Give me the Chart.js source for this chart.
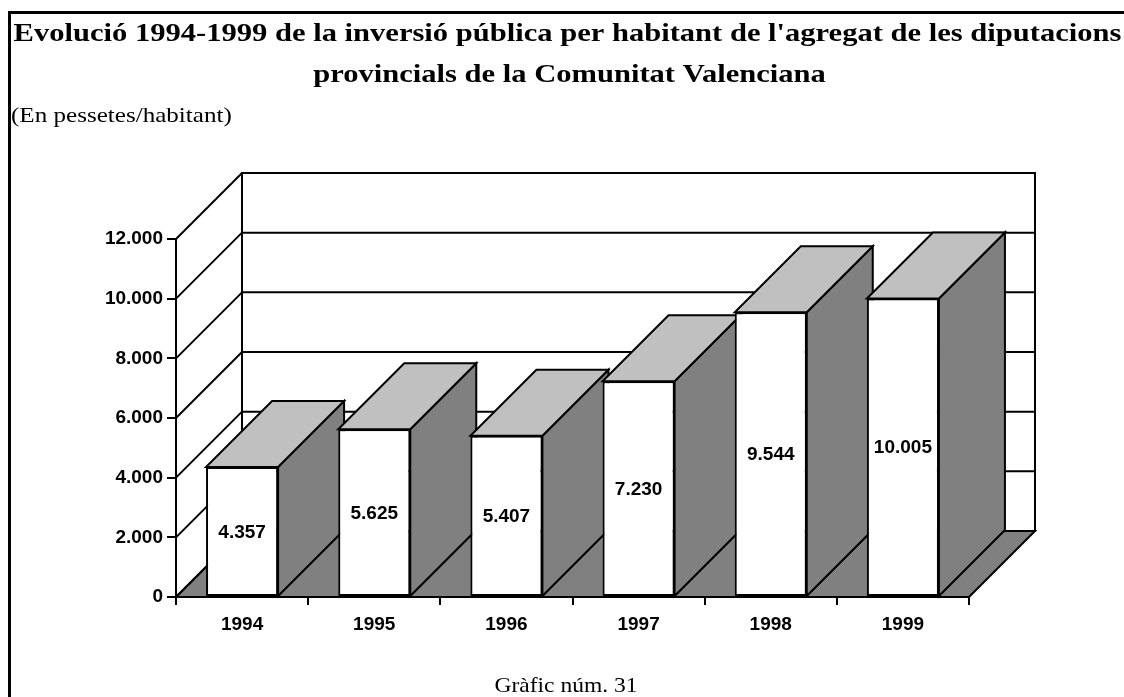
<!DOCTYPE html>
<html><head><meta charset="utf-8">
<script src="https://cdn.jsdelivr.net/npm/chart.js@4.4.1/dist/chart.umd.min.js"></script>
<style>html,body{margin:0;padding:0;background:#fff;} #wrap{width:1124px;height:697px;position:relative;}</style>
</head><body><div id="wrap"><canvas id="c" width="1124" height="697"></canvas></div>
<script>
const categories = ['1994', '1995', '1996', '1997', '1998', '1999'];
const values = [4357, 5625, 5407, 7230, 9544, 10005];
const yTicks = [0, 2000, 4000, 6000, 8000, 10000, 12000];
const titleLines = ["Evolució 1994-1999 de la inversió pública per habitant de l'agregat de les diputacions", "provincials de la Comunitat Valenciana"];
const subtitleText = "(En pessetes/habitant)";
const footerText = "Gràfic núm. 31";

const DX = 66, DY = 66;
const TOP_C = '#c0c0c0', SIDE_C = '#808080', FLOOR_C = '#808080';
const SANS = '"Liberation Sans", Arial, sans-serif';
const SERIF = '"Liberation Serif", "Times New Roman", serif';
const fmt = v => String(v).replace(/\B(?=(\d{3})+(?!\d))/g, '.');

function poly(ctx, pts, fill) {
  ctx.beginPath();
  ctx.moveTo(pts[0][0], pts[0][1]);
  for (let i = 1; i < pts.length; i++) ctx.lineTo(pts[i][0], pts[i][1]);
  ctx.closePath();
  if (fill) { ctx.fillStyle = fill; ctx.fill(); }
  ctx.stroke();
}
function line(ctx, x1, y1, x2, y2) {
  ctx.beginPath(); ctx.moveTo(x1, y1); ctx.lineTo(x2, y2); ctx.stroke();
}
function txt(ctx, s, x, y, font, align, sx) {
  ctx.save();
  ctx.font = font; ctx.textAlign = align; ctx.textBaseline = 'alphabetic'; ctx.fillStyle = '#000';
  ctx.translate(x, y); ctx.scale(sx, 1); ctx.fillText(s, 0, 0);
  ctx.restore();
}

const threeD = {
  id: 'threeD',
  beforeDraw(chart) {
    const ctx = chart.ctx, a = chart.chartArea, ys = chart.scales.y;
    ctx.save();
    ctx.fillStyle = '#fff'; ctx.fillRect(0, 0, chart.width, chart.height);
    ctx.strokeStyle = '#000'; ctx.lineWidth = 2; ctx.lineJoin = 'miter';
    // back wall
    poly(ctx, [[a.left + DX, a.top - DY], [a.right + DX, a.top - DY], [a.right + DX, a.bottom - DY], [a.left + DX, a.bottom - DY]], '#fff');
    // floor
    poly(ctx, [[a.left, a.bottom], [a.right, a.bottom], [a.right + DX, a.bottom - DY], [a.left + DX, a.bottom - DY]], FLOOR_C);
    // gridlines on back wall + diagonals on left wall
    yTicks.forEach(v => {
      const py = ys.getPixelForValue(v);
      line(ctx, a.left + DX, py - DY, a.right + DX, py - DY);
      line(ctx, a.left, py, a.left + DX, py - DY);
    });
    line(ctx, a.left + DX, a.top - DY, a.left + DX, a.bottom - DY);
    ctx.restore();
  },
  beforeDatasetsDraw(chart) {
    const ctx = chart.ctx;
    const meta = chart.getDatasetMeta(0);
    ctx.save();
    ctx.strokeStyle = '#000'; ctx.lineWidth = 2; ctx.lineJoin = 'miter';
    meta.data.forEach(el => {
      const p = el.getProps(['x', 'y', 'base', 'width'], true);
      const L = p.x - p.width / 2, R = p.x + p.width / 2, T = p.y, B = p.base;
      poly(ctx, [[R, T], [R + DX, T - DY], [R + DX, B - DY], [R, B]], SIDE_C);
      poly(ctx, [[L, T], [R, T], [R + DX, T - DY], [L + DX, T - DY]], TOP_C);
    });
    ctx.restore();
  },
  afterDatasetsDraw(chart) {
    const ctx = chart.ctx;
    const meta = chart.getDatasetMeta(0);
    ctx.save();
    ctx.font = 'bold 19px ' + SANS; ctx.textAlign = 'center'; ctx.textBaseline = 'middle'; ctx.fillStyle = '#000';
    meta.data.forEach((el, i) => {
      const p = el.getProps(['x', 'y', 'base'], true);
      ctx.fillText(fmt(values[i]), p.x, (p.y + p.base) / 2 + 1);
    });
    ctx.restore();
  },
  afterDraw(chart) {
    const ctx = chart.ctx;
    txt(ctx, titleLines[0], 567.5, 41, 'bold 26px ' + SERIF, 'center', 1.175);
    txt(ctx, titleLines[1], 569.5, 82, 'bold 26px ' + SERIF, 'center', 1.175);
    txt(ctx, subtitleText, 11, 122, '22px ' + SERIF, 'left', 1.14);
    txt(ctx, footerText, 566, 692, '21px ' + SERIF, 'center', 1.12);
    ctx.save();
    ctx.strokeStyle = '#000'; ctx.lineWidth = 3;
    ctx.strokeRect(9.5, 12.5, 2000, 2000);
    ctx.restore();
  }
};

new Chart(document.getElementById('c'), {
  type: 'bar',
  data: {
    labels: categories,
    datasets: [{
      data: values,
      backgroundColor: '#fff', borderColor: '#000', borderWidth: 2, borderSkipped: false,
      categoryPercentage: 1, barPercentage: 0.545
    }]
  },
  options: {
    responsive: false, animation: false, devicePixelRatio: 1,
    layout: { padding: { top: 239, right: 155, left: 0, bottom: 0 } },
    plugins: { legend: { display: false }, tooltip: { enabled: false }, title: { display: false } },
    scales: {
      x: {
        grid: { offset: true, drawOnChartArea: false, drawTicks: true, tickLength: 8, color: '#000', lineWidth: 2 },
        border: { display: true, color: '#000', width: 2 },
        ticks: { font: { family: SANS, weight: 'bold', size: 19 }, color: '#000', padding: 8, maxRotation: 0 },
        afterFit: s => { s.height = 100; }
      },
      y: {
        min: 0, max: 12000,
        afterBuildTicks: s => { s.ticks = yTicks.map(v => ({ value: v })); },
        grid: { drawOnChartArea: false, drawTicks: true, tickLength: 9, color: '#000', lineWidth: 2 },
        border: { display: true, color: '#000', width: 2 },
        ticks: { callback: v => fmt(v), font: { family: SANS, weight: 'bold', size: 19 }, color: '#000', padding: 4 },
        afterFit: s => { s.width = 176; }
      }
    }
  },
  plugins: [threeD]
});
</script>
</body></html>
